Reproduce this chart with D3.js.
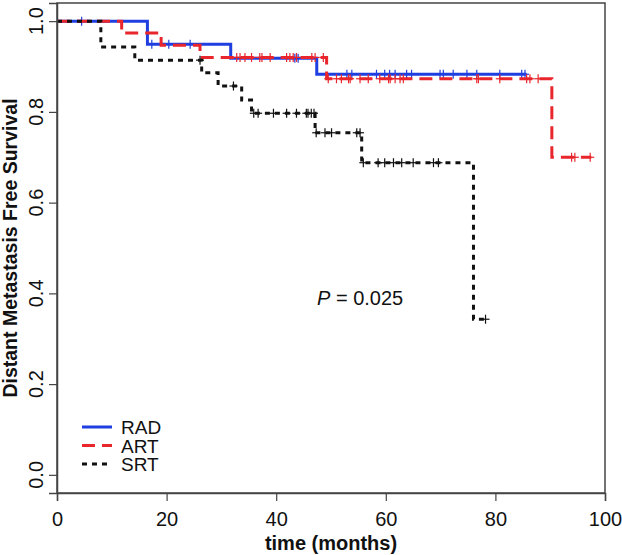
<!DOCTYPE html>
<html>
<head>
<meta charset="utf-8">
<script src="https://cdn.jsdelivr.net/npm/d3@7"></script>
<style>
  html, body { margin: 0; padding: 0; background: #fff; }
  svg { display: block; font-family: "Liberation Sans", Arial, Helvetica, sans-serif; }
</style>
</head>
<body>
<svg id="chart" width="622" height="555"></svg>
<script>
// ---------- data ----------
const groups = ["RAD", "ART", "SRT"];
const groupColors = ["#1f3fe0", "#e8262c", "#111111"];

// survival steps: [time, survival after step]
const radSteps = [[0, 1.0], [16.5, 0.949], [31.7, 0.918], [47.4, 0.883]];
const radEnd = 85.7;
const radCensor = [4.5, 17.3, 20.4, 24.3, 43.4, 44.0, 52.9, 53.8, 58.3, 59.8, 60.7, 61.7, 63.8, 64.7, 69.9, 70.5, 72.3, 74.8, 76.6, 80.8, 84.8, 85.4];

const artSteps = [[0, 1.0], [11.8, 0.974], [19.0, 0.947], [26.1, 0.920], [49.2, 0.873], [90.3, 0.700]];
const artEnd = 97.5;
const artCensor = [32.8, 33.4, 34.3, 35.5, 37.0, 37.4, 38.9, 41.9, 42.5, 43.1, 43.7, 46.5, 47.1, 48.6, 49.5, 51.0, 51.9, 53.2, 53.5, 55.3, 56.8, 58.9, 60.5, 60.8, 61.7, 62.6, 63.2, 76.6, 76.9, 80.8, 85.7, 86.3, 87.8, 93.9, 94.5, 97.3];

const srtSteps = [[0, 1.0], [8.0, 0.943], [14.2, 0.914], [26.4, 0.886], [29.4, 0.857], [33.7, 0.826], [35.5, 0.797], [47.1, 0.754], [55.6, 0.688], [76.0, 0.343]];
const srtEnd = 78.2;
const srtCensor = [26.1, 32.2, 35.9, 36.7, 39.5, 41.9, 43.7, 45.5, 45.8, 46.4, 46.9, 47.3, 48.9, 50.1, 54.7, 55.3, 55.9, 58.6, 59.8, 61.4, 62.9, 65.0, 68.7, 69.6, 78.2];

const xTicks = [0, 20, 40, 60, 80, 100];
const yTicks = [0.0, 0.2, 0.4, 0.6, 0.8, 1.0];
const xTitle = "time (months)";
const yTitle = "Distant Metastasis Free Survival";
const pLabel = "0.025";

// ---------- layout ----------
const svg = d3.select("#chart");
const L = 57, R = 605, T = 3, B = 493;
const x = d3.scaleLinear().domain([0, 100]).range([L, R]);
const y = d3.scaleLinear().domain([-0.04, 1.04]).range([B, T]);

const series = [
  { name: groups[0], color: groupColors[0], steps: radSteps, end: radEnd, censor: radCensor, dash: null, width: 3 },
  { name: groups[1], color: groupColors[1], steps: artSteps, end: artEnd, censor: artCensor, dash: "13,7", width: 3 },
  { name: groups[2], color: groupColors[2], steps: srtSteps, end: srtEnd, censor: srtCensor, dash: "5,5", width: 3 }
];

function survAt(steps, t) {
  let s = 1;
  for (const [tt, v] of steps) if (tt <= t) s = v;
  return s;
}

const line = d3.line().x(d => x(d[0])).y(d => y(d[1])).curve(d3.curveStepAfter);

svg.append("clipPath").attr("id", "clip")
  .append("rect").attr("x", L).attr("y", T).attr("width", R - L).attr("height", B - T);

const plot = svg.append("g").attr("clip-path", "url(#clip)");

series.forEach(s => {
  const pts = s.steps.concat([[s.end, s.steps[s.steps.length - 1][1]]]);
  plot.append("path")
    .attr("d", line(pts))
    .attr("fill", "none")
    .attr("stroke", s.color)
    .attr("stroke-width", s.width)
    .attr("stroke-dasharray", s.dash)
    .attr("stroke-linecap", "butt");
  const g = plot.append("g").attr("stroke", s.color).attr("stroke-width", 1.2);
  s.censor.forEach(t => {
    const cx = x(t), cy = y(survAt(s.steps, t));
    g.append("line").attr("x1", cx - 4).attr("x2", cx + 4).attr("y1", cy).attr("y2", cy);
    g.append("line").attr("x1", cx).attr("x2", cx).attr("y1", cy - 4.5).attr("y2", cy + 4.5);
  });
});

// box
svg.append("rect").attr("x", L).attr("y", T).attr("width", R - L).attr("height", B - T)
  .attr("fill", "none").attr("stroke", "#444").attr("stroke-width", 1.5);

// x axis
const xAxis = svg.append("g").attr("transform", `translate(0,${B})`)
  .call(d3.axisBottom(x).tickValues(xTicks).tickFormat(d3.format("d")).tickSize(8).tickPadding(11));
xAxis.select(".domain").attr("stroke", "#444").attr("stroke-width", 1.5);
xAxis.selectAll(".tick line").attr("stroke", "#444").attr("stroke-width", 1.2);
xAxis.selectAll(".tick text").attr("font-size", 20).attr("fill", "#111")
  .attr("font-family", "Liberation Sans, Arial, sans-serif");

// y axis
const yAxis = svg.append("g").attr("transform", `translate(${L},0)`)
  .call(d3.axisLeft(y).tickValues(yTicks).tickFormat(() => "").tickSize(8));
yAxis.select(".domain").attr("stroke", "#444").attr("stroke-width", 1.5);
yAxis.selectAll(".tick line").attr("stroke", "#444").attr("stroke-width", 1.2);
yTicks.forEach(v => {
  svg.append("text")
    .attr("transform", `translate(43,${y(v)}) rotate(-90)`)
    .attr("text-anchor", "middle")
    .attr("font-size", 20).attr("fill", "#111")
    .text(d3.format(".1f")(v));
});

// axis titles
svg.append("text").attr("x", (L + R) / 2).attr("y", 550)
  .attr("text-anchor", "middle").attr("font-size", 20).attr("font-weight", "bold").attr("fill", "#111")
  .text(xTitle);
svg.append("text").attr("transform", `translate(17,${(T + B) / 2}) rotate(-90)`)
  .attr("text-anchor", "middle").attr("font-size", 19.5).attr("font-weight", "bold").attr("fill", "#111")
  .text(yTitle);

// p-value
const pt = svg.append("text").attr("x", 317).attr("y", 305).attr("font-size", 20).attr("fill", "#111");
pt.append("tspan").attr("font-style", "italic").text("P");
pt.append("tspan").text(" = " + pLabel);

// legend
const legY = [427, 445.5, 464];
series.forEach((s, i) => {
  svg.append("line").attr("x1", 82).attr("x2", 112).attr("y1", legY[i]).attr("y2", legY[i])
    .attr("stroke", s.color).attr("stroke-width", 3).attr("stroke-dasharray", s.dash);
  svg.append("text").attr("x", 121).attr("y", legY[i] + 7)
    .attr("font-size", 19).attr("fill", "#111").text(s.name);
});
</script>
</body>
</html>
